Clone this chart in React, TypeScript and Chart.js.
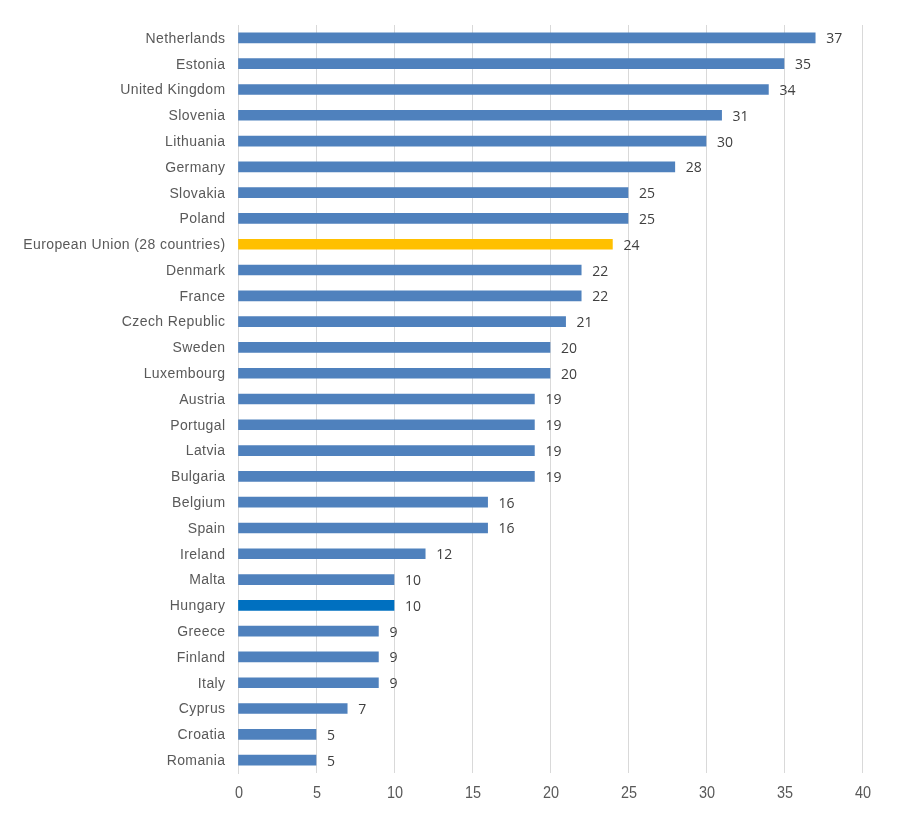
import React, { useEffect, useRef } from "react";
import { Chart, registerables } from "chart.js";

Chart.register(...registerables);

const countries = [
  "Netherlands", "Estonia", "United Kingdom", "Slovenia", "Lithuania", "Germany",
  "Slovakia", "Poland", "European Union (28 countries)", "Denmark", "France",
  "Czech Republic", "Sweden", "Luxembourg", "Austria", "Portugal", "Latvia",
  "Bulgaria", "Belgium", "Spain", "Ireland", "Malta", "Hungary", "Greece",
  "Finland", "Italy", "Cyprus", "Croatia", "Romania",
];

const values = [37, 35, 34, 31, 30, 28, 25, 25, 24, 22, 22, 21, 20, 20, 19, 19, 19, 19, 16, 16, 12, 10, 10, 9, 9, 9, 7, 5, 5];

const xTicks = [0, 5, 10, 15, 20, 25, 30, 35, 40];

const BASE = "#4F81BD";
const EU = "#FFC000";
const HU = "#0070C0";

const barColors = countries.map((c) =>
  c.startsWith("European Union") ? EU : c === "Hungary" ? HU : BASE
);

// Draws category names, axis numbers and the value beside each bar.
const textLayer = {
  id: "textLayer",
  afterDatasetsDraw(chart: any) {
    const { ctx } = chart;
    const meta = chart.getDatasetMeta(0);
    const xScale = chart.scales.x;
    const area = chart.chartArea;

    // values at bar ends
    ctx.save();
    ctx.font = '14px "Open Sans", "DejaVu Sans", sans-serif';
    ctx.fillStyle = "#404040";
    ctx.textAlign = "left";
    ctx.textBaseline = "middle";
    meta.data.forEach((bar: any, i: number) => {
      ctx.fillText(String(values[i]), bar.x + 11, bar.y + 1.5);
    });
    ctx.restore();

    // category names
    ctx.save();
    ctx.font = '14px "Liberation Sans", Arial, sans-serif';
    ctx.fillStyle = "#595959";
    ctx.textAlign = "right";
    ctx.textBaseline = "middle";
    (ctx as any).letterSpacing = "0.4px";
    meta.data.forEach((bar: any, i: number) => {
      ctx.fillText(countries[i], area.left - 12.5, bar.y + 1);
    });
    ctx.restore();

    // x axis numbers
    ctx.save();
    ctx.font = '17px "Liberation Sans", Arial, sans-serif';
    ctx.fillStyle = "#595959";
    ctx.textAlign = "center";
    ctx.textBaseline = "middle";
    xTicks.forEach((v) => {
      ctx.save();
      ctx.translate(xScale.getPixelForValue(v) + 1, area.bottom + 20);
      ctx.scale(0.85, 1);
      ctx.fillText(String(v), 0, 0);
      ctx.restore();
    });
    ctx.restore();
  },
};

export default function App() {
  const ref = useRef<HTMLCanvasElement | null>(null);

  useEffect(() => {
    if (!ref.current) return;
    const chart = new Chart(ref.current, {
      type: "bar",
      data: {
        labels: countries,
        datasets: [
          {
            data: values,
            backgroundColor: barColors,
            barThickness: 10,
          },
        ],
      },
      options: {
        indexAxis: "y",
        animation: false,
        responsive: false,
        maintainAspectRatio: false,
        layout: { padding: { top: 25, right: 38, bottom: 0, left: 0 } },
        plugins: {
          legend: { display: false },
          tooltip: { enabled: false },
        },
        scales: {
          x: {
            min: 0,
            max: 40,
            afterBuildTicks(scale: any) {
              scale.ticks = xTicks.map((v) => ({ value: v }));
            },
            afterFit(scale: any) {
              scale.height = 56;
            },
            grid: { color: "#D9D9D9", drawTicks: false, lineWidth: 1 },
            border: { display: false },
            ticks: { display: false },
          },
          y: {
            afterFit(scale: any) {
              scale.width = 238;
            },
            grid: { display: false, drawTicks: false },
            border: { display: true, color: "#D9D9D9" },
            ticks: { display: false, autoSkip: false },
          },
        },
      },
      plugins: [textLayer],
    });
    return () => chart.destroy();
  }, []);

  return (
    <div style={{ position: "absolute", left: 0, top: 0, width: 900, height: 829, background: "#fff" }}>
      <canvas ref={ref} width={900} height={829} style={{ display: "block" }} />
    </div>
  );
}
